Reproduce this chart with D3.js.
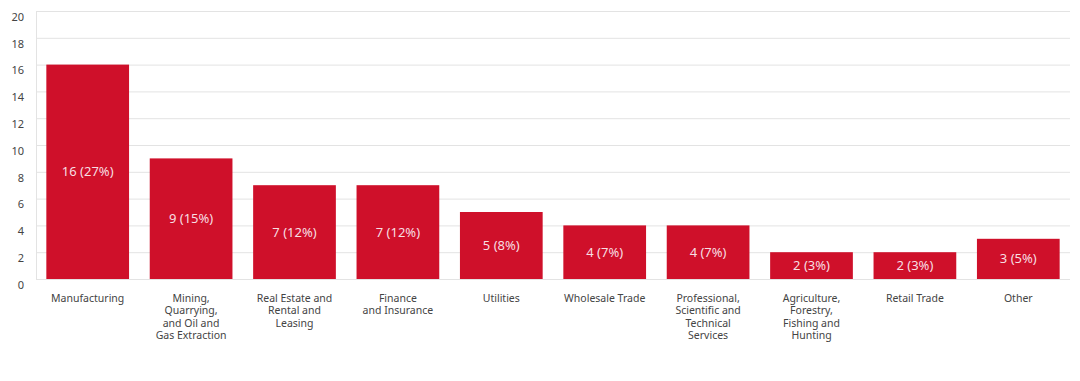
<!DOCTYPE html>
<html><head><meta charset="utf-8">
<script src="https://cdn.jsdelivr.net/npm/d3@7"></script>
<style>body{margin:0;background:#fff;}svg{display:block;font-family:"Noto Sans","Open Sans",sans-serif;}</style>
</head><body>
<svg id="c" width="1080" height="381"></svg>
<script>
const categories = [
  ["Manufacturing"],
  ["Mining,","Quarrying,","and Oil and","Gas Extraction"],
  ["Real Estate and","Rental and","Leasing"],
  ["Finance","and Insurance"],
  ["Utilities"],
  ["Wholesale Trade"],
  ["Professional,","Scientific and","Technical","Services"],
  ["Agriculture,","Forestry,","Fishing and","Hunting"],
  ["Retail Trade"],
  ["Other"]
];
const values = [16, 9, 7, 7, 5, 4, 4, 2, 2, 3];
const percents = [27, 15, 12, 12, 8, 7, 7, 3, 3, 5];
const yTicks = [0, 2, 4, 6, 8, 10, 12, 14, 16, 18, 20];

const svg = d3.select("#c");
const m = {left: 36, right: 10, top: 11, bottom: 102};
const W = 1080, H = 381;
const x = d3.scaleBand().domain(d3.range(values.length)).range([m.left, W - m.right]).paddingInner(0.2).paddingOuter(0.1);
const y = d3.scaleLinear().domain([0, 20]).range([H - m.bottom, m.top]);

// grid
svg.append("g").selectAll("line").data(yTicks).join("line")
  .attr("x1", m.left).attr("x2", W - m.right)
  .attr("y1", d => y(d) + 0.5).attr("y2", d => y(d) + 0.5)
  .attr("stroke", "#e3e3e3").attr("stroke-width", 1);
svg.append("line").attr("x1", m.left + 0.5).attr("x2", m.left + 0.5)
  .attr("y1", y(20)).attr("y2", y(0)).attr("stroke", "#e3e3e3");

// y labels
svg.append("g").selectAll("text").data(yTicks).join("text")
  .attr("x", 24).attr("y", d => y(d) + 6).attr("dy", "0.35em")
  .attr("text-anchor", "end").attr("font-size", 11).attr("fill", "#444")
  .text(d => d);

// bars
svg.append("g").selectAll("rect").data(values).join("rect")
  .attr("x", (d, i) => x(i)).attr("width", x.bandwidth())
  .attr("y", d => y(d)).attr("height", d => y(0) - y(d))
  .attr("fill", "#cf102a");

// bar labels
svg.append("g").selectAll("text").data(values).join("text")
  .attr("x", (d, i) => x(i) + x.bandwidth() / 2)
  .attr("y", d => (y(d) + y(0)) / 2).attr("dy", "0.35em")
  .attr("text-anchor", "middle").attr("font-size", 13).attr("fill", "#f7dfe2")
  .text((d, i) => `${d} (${percents[i]}%)`);

// category labels
const cg = svg.append("g").selectAll("text").data(categories).join("text")
  .attr("x", (d, i) => x(i) + x.bandwidth() / 2)
  .attr("y", 302)
  .attr("text-anchor", "middle").attr("font-size", 10.5).attr("fill", "#444");
cg.selectAll("tspan").data(d => d).join("tspan")
  .attr("x", function() { return this.parentNode.getAttribute("x"); })
  .attr("dy", (d, j) => j === 0 ? 0 : 12.3)
  .text(d => d);
</script>
</body></html>
